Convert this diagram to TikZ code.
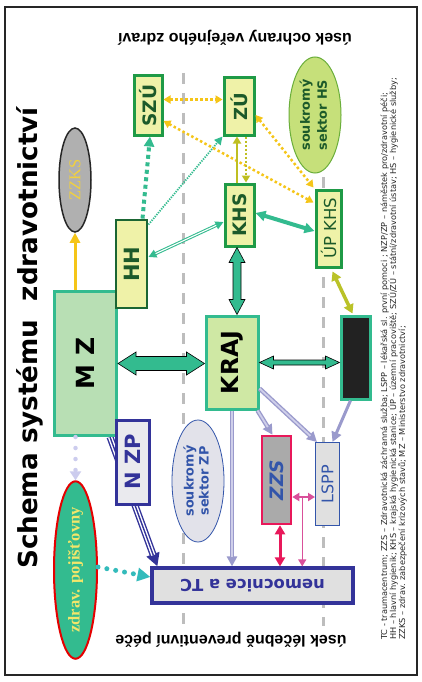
\documentclass[tikz,border=0pt]{standalone}
\usepackage{fontspec}
\setmainfont{DejaVu Sans}
\newfontfamily\lsans{Liberation Sans}
\newfontfamily\lserif{Liberation Serif}
\usetikzlibrary{arrows.meta,calc,shapes.geometric,backgrounds}
\newcommand{\myfs}[1]{\fontsize{#1}{#1}\selectfont}
\newcommand{\myfsb}[2]{\fontsize{#1}{#2}\selectfont}
\definecolor{teal1}{HTML}{33BB8F}
\definecolor{mzfill}{HTML}{B8DFB4}
\definecolor{krajfill}{HTML}{CFE8A4}
\definecolor{yfill}{HTML}{EFF2A8}
\definecolor{gbord}{HTML}{1F9A46}
\definecolor{hhbord}{HTML}{1B6633}
\definecolor{gtext}{HTML}{1C5A2A}
\definecolor{hsfill}{HTML}{C6E07A}
\definecolor{hsbord}{HTML}{6AAE3A}
\definecolor{ydot}{HTML}{F5C518}
\definecolor{olive1}{HTML}{BFBF22}
\definecolor{olive2}{HTML}{BAC228}
\definecolor{lav}{HTML}{9A9ACC}
\definecolor{lavlight}{HTML}{CFCFEA}
\definecolor{lavdot}{HTML}{CCCCEE}
\definecolor{dblue}{HTML}{333399}
\definecolor{btext}{HTML}{3355AA}
\definecolor{crim}{HTML}{E8185A}
\definecolor{mag}{HTML}{D9509A}
\definecolor{zzkstext}{HTML}{F0D040}
\definecolor{pojtext}{HTML}{F2E66A}
\definecolor{dashgray}{HTML}{BDBDBD}
\definecolor{boxgray}{HTML}{E0E0E0}
\definecolor{nzpfill}{HTML}{EAEAEE}
\definecolor{zzsgray}{HTML}{AAAAAA}
\definecolor{cyan1}{HTML}{33BBBB}
\definecolor{ellgray}{HTML}{B0B0B0}
\definecolor{zpfill}{HTML}{E2E2EA}
\definecolor{blkfill}{HTML}{222222}
\begin{document}
\begin{tikzpicture}[x=1pt,y=-1pt,
 tipY/.tip={Triangle[length=7pt,width=8pt]},
 tipT/.tip={Triangle[length=10pt,width=10pt]},
 tipS/.tip={Triangle[length=8pt,width=8pt]},
 tipL/.tip={Triangle[length=10pt,width=10pt]},
 tipB/.tip={Triangle[length=13pt,width=13pt]},
 tipC/.tip={Triangle[length=9pt,width=10pt]},
 box/.style={rectangle, draw, inner sep=0pt, line width=3pt},
 ybox/.style={box, fill=yfill, draw=gbord, text=gtext},
 ell/.style={ellipse, draw, inner sep=0pt},
 dashline/.style={draw=dashgray, line width=3pt, dash pattern=on 11pt off 9pt},
 ydotted/.style={draw=ydot, line width=2.5pt, dash pattern=on 2.5pt off 2.5pt, tipY-tipY},
 fatarr/.style={fill=teal1, draw=black, line width=0.6pt, line join=miter},
 lavdouble/.style={draw=lav, line width=4.5pt, -tipL, postaction={draw=lavlight, line width=1.8pt, arrows=-, shorten >=9pt}},
 legend/.style={rotate=90, anchor=base west, inner sep=0pt, text=black!85, font=\myfs{8.2}},
]
\useasboundingbox (0,0) rectangle (421,682);

% nodes
\node[box, draw=teal1, fill=mzfill, minimum width=62pt, minimum height=144pt] (MZ) at (85.5,363.5) {\rotatebox{90}{\myfs{25}\bfseries M Z}};
\node[box, draw=hhbord, fill=yfill, text=gtext, line width=2.8pt, minimum width=31pt, minimum height=88pt] (HH) at (131.5,264) {\rotatebox{90}{\myfs{21}\bfseries HH}};
\node[ybox, minimum width=28pt, minimum height=59pt] (SZU) at (148,105.5) {\rotatebox{90}{\myfs{18.5}\bfseries SZÚ}};
\node[ybox, minimum width=30pt, minimum height=57pt] (ZU) at (239,106.5) {\rotatebox{90}{\myfs{18}\bfseries ZÚ}};
\node[ybox, minimum width=29pt, minimum height=62pt] (KHS) at (239.5,215) {\rotatebox{90}{\myfs{18.5}\bfseries KHS}};
\node[ybox, minimum width=25pt, minimum height=77pt] (UP) at (328.5,228.5) {\rotatebox{90}{\myfs{16.5}ÚP KHS}};
\node[box, draw=teal1, fill=krajfill, minimum width=52pt, minimum height=93pt] (KRAJ) at (232,362.5) {\rotatebox{90}{\myfs{23.5}\bfseries KRAJ}};
\node[box, draw=teal1, fill=blkfill, minimum width=29pt, minimum height=83pt] (BLK) at (355.5,357.5) {};
\node[box, draw=dblue, fill=nzpfill, text=dblue, minimum width=33pt, minimum height=84pt] (NZP) at (132.5,462) {\rotatebox{90}{\myfs{21}\bfseries N ZP}};
\node[box, draw=crim, fill=zzsgray, text=btext, line width=2.5pt, minimum width=29pt, minimum height=88pt] (ZZS) at (276.5,480) {\rotatebox{90}{\myfs{18.5}\bfseries\itshape ZZS}};
\node[box, draw=btext, fill=boxgray, text=btext, line width=1pt, minimum width=24pt, minimum height=83pt] (LSPP) at (327.5,484) {\rotatebox{90}{\myfs{16}LSPP}};
\node[box, draw=dblue, fill=boxgray, text=dblue, line width=3.2pt, minimum width=201pt, minimum height=35pt] (NEMO) at (252.5,585.5) {\rotatebox{180}{\myfs{16.4}\bfseries nemocnice a TC}};

\node[ell, fill=hsfill, draw=hsbord, line width=1pt, text=gtext, minimum width=52pt, minimum height=116pt] (HS) at (315,115) {\rotatebox{90}{\myfsb{12.8}{17}\bfseries\begin{tabular}{@{}c@{}}soukromý\\sektor HS\end{tabular}}};
\node[ell, fill=ellgray, draw=black!85, line width=1.5pt, text=zzkstext, minimum width=32pt, minimum height=104pt] (ZZKS) at (75,180) {\rotatebox{90}{\myfs{16.5}\lserif ZZKS}};
\node[ell, fill=zpfill, draw=btext, line width=0.8pt, text=btext, minimum width=52pt, minimum height=122pt] (ZP) at (198,481) {\rotatebox{90}{\myfsb{12.8}{15}\bfseries\begin{tabular}{@{}c@{}}soukromý\\sektor ZP\end{tabular}}};
\node[ell, fill=teal1, draw=red!90!black, line width=2pt, text=pojtext, minimum width=43pt, minimum height=174pt] (POJ) at (75.5,570) {\rotatebox{90}{\myfs{16.5}\lserif\bfseries zdrav. pojišťovny}};

% texts
\node[rotate=90, anchor=base, inner sep=0pt] (title) at (37,338) {\myfs{26.2}\bfseries Schema systému\ \ zdravotnictví};
\node[rotate=180, inner sep=0pt] (top) at (235,37.5) {\myfs{16}\lsans\bfseries úsek ochrany veřejného zdraví};
\node[rotate=180, inner sep=0pt] (bottom) at (231,640) {\myfs{16}\lsans\bfseries úsek léčebně preventivní péče};
\node[legend] (L1) at (387,640) {TC - traumacentrum; ZZS – Zdravotnická záchranná služba; LSPP – lékařská sl. první pomoci ; NZP/ZP – náměstek pro/zdravotní péči;};
\node[legend] (L2) at (396,640) {HH – hlavní hygienik; KHS – krajská hygienická stanice; ÚP – územní pracoviště; SZÚ/ZÚ – státní/zdravotní ústav; HS – hygienické služby;};
\node[legend] (L3) at (405,640) {ZZKS – zdrav. zabezpečení krizových stavů; MZ – Ministerstvo zdravotnictví;};

% background
\begin{pgfonlayer}{background}
\fill[white] (0,0) rectangle (421,682);
\draw[line width=2.5pt, black!85] (5,7) rectangle (417,675);
\coordinate (d1) at (183,73);
\coordinate (d2) at (323,177);
\draw[dashline] (d1) -- (d1 |- 0,626);
\draw[dashline] (d2) -- (d2 |- 0,626);
\coordinate (n1) at ($(MZ.south east)+(-8,0)$);
\draw[draw=dblue, line width=7pt, -tipB, postaction={draw=white, line width=4.2pt, arrows=-, shorten >=12pt}, postaction={draw=dblue, line width=1.4pt, arrows=-, shorten >=12pt}] (n1) -- ($(NEMO.north west)+(7,0)$);
\end{pgfonlayer}

% connectors
\draw[draw=ydot, line width=3pt, -tipT] (ZZKS.south |- MZ.north) -- (ZZKS.south);
\draw[draw=teal1, line width=4pt, dash pattern=on 4pt off 3.5pt, -tipT] ($(HH.north)+(11,0)$) -- ($(SZU.south)+(2,0)$);
\draw[draw=teal1, line width=1.8pt, dash pattern=on 1.3pt off 1.2pt, -tipS] ($(HH.north east)+(0,6)$) -- (ZU.south west);
\draw[draw=teal1, line width=3.2pt, tipS-tipS, postaction={draw=white, line width=1.1pt, arrows=-, shorten >=8pt, shorten <=8pt}] ($(HH.east)+(0,-7)$) -- ($(KHS.west)+(0,7)$);
\coordinate (s1) at ($(SZU.east)+(0,-6)$);
\draw[ydotted] (s1) -- (s1 -| ZU.west);
\draw[ydotted] ($(SZU.east)+(0,15.5)$) -- ($(UP.north west)+(-1,14)$);
\draw[ydotted] ($(ZU.east)+(0,8.5)$) -- ($(UP.north west)+(-1,-1)$);
\coordinate (o1) at ($(KHS.north)+(-2.5,0)$);
\draw[draw=olive1, line width=2pt, -tipY] (o1) -- (o1 |- ZU.south);
\coordinate (o2) at ($(ZU.south)+(7,0)$);
\draw[draw=olive1, line width=2.5pt, dash pattern=on 2pt off 2pt, -tipY] (o2) -- (o2 |- KHS.north);
\draw[draw=teal1, line width=4pt, tipT-tipT] ($(KHS.east)+(0,-2)$) -- ($(UP.west)+(0,2.5)$);
\draw[draw=olive2, line width=3.5pt, tipC-tipC] ($(UP.south)+(4,3)$) -- ($(BLK.north)+(-3,-1)$);

% fat arrows
\coordinate (p1) at (MZ.east);
\coordinate (q1) at (KRAJ.west |- p1);
\draw[fatarr] (p1) -- ++(18,-11.5) -- ++(0,4.5) -- ($(q1)+(-18,-7)$) -- ++(0,-4.5) -- (q1) -- ++(-18,11.5) -- ++(0,-4.5) -- ($(p1)+(18,7)$) -- ++(0,4.5) -- cycle;
\coordinate (p2) at (KRAJ.east);
\coordinate (q2) at (BLK.west |- p2);
\draw[fatarr] (p2) -- ++(14,-6.5) -- ++(0,4) -- ($(q2)+(-14,-2.5)$) -- ++(0,-4) -- (q2) -- ++(-14,6.5) -- ++(0,-4) -- ($(p2)+(14,2.5)$) -- ++(0,4) -- cycle;
\coordinate (p3) at ($(KHS.south)+(-2.5,0)$);
\coordinate (q3) at (p3 |- KRAJ.north);
\draw[fatarr] (p3) -- ++(8,15) -- ++(-4,0) -- ($(q3)+(4,-15)$) -- ++(4,0) -- (q3) -- ++(-8,-15) -- ++(4,0) -- ($(p3)+(-4,15)$) -- ++(-4,0) -- cycle;

% lower connectors
\draw[lavdouble] ($(KRAJ.south east)+(-2,0)$) -- ($(ZZS.north)+(-4,0)$);
\draw[lavdouble] ($(KRAJ.east)+(0,26)$) -- ($(LSPP.north west)+(2,0)$);
\coordinate (k2) at (KRAJ.south);
\draw[lavdouble] (k2) -- (k2 |- NEMO.north);
\draw[draw=lav, line width=3pt, -tipL] ($(BLK.south)+(-5,0)$) -- ($(LSPP.north)+(5,0)$);
\draw[draw=lavdot, line width=4.5pt, line cap=round, dash pattern=on 0pt off 11pt, -{Triangle[length=9pt,width=11pt]}] (POJ.north |- MZ.south) -- (POJ.north);
\draw[draw=cyan1, line width=5pt, line cap=round, dash pattern=on 0pt off 9pt, -tipB] ($(POJ.east)+(0,-3)$) -- ($(NEMO.west)+(0,-8.5)$);
\coordinate (c1) at ($(ZZS.south)+(3.5,0)$);
\draw[draw=crim, line width=3pt, tipC-tipC] (c1) -- (c1 |- NEMO.north);
\coordinate (m1) at ($(ZZS.east)+(0,17)$);
\draw[draw=mag, line width=2.5pt, tipY-tipY] (m1) -- (m1 -| LSPP.west);
\coordinate (m2) at ($(m1)+(10,0)$);
\draw[draw=mag, line width=1.3pt, -tipY] (m2) -- (m2 |- NEMO.north);
\end{tikzpicture}
\end{document}
